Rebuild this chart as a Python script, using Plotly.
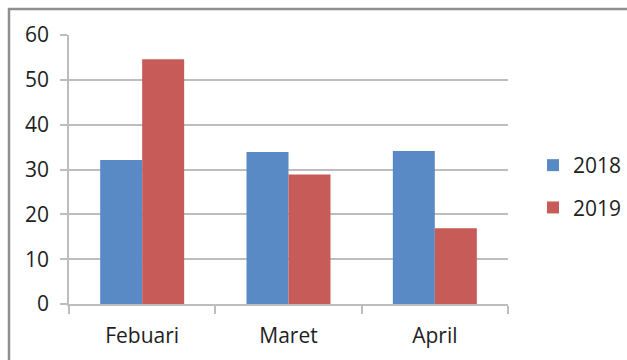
import plotly.graph_objects as go

categories = ["Febuari", "Maret", "April"]
series_names = ["2018", "2019"]
values_2018 = [32.1, 33.9, 34.1]
values_2019 = [54.6, 28.9, 16.9]
y_ticks = [0, 10, 20, 30, 40, 50, 60]

colors = ["#5A8AC6", "#C75B58"]
FONT = "Open Sans"
TXT = "#1E1E1E"
GRID = "#BDBDBD"
FS = 21

W, H = 627, 360
L, R, T, B = 69, 627 - 508, 35, 360 - 304
pw, ph = W - L - R, H - T - B

fig = go.Figure()
for name, vals, col, g in zip(series_names, [values_2018, values_2019], colors, ["a", "b"]):
    fig.add_trace(go.Bar(
        x=categories, y=vals, name=name, legendgroup=g,
        marker=dict(color=col, line=dict(width=0)),
    ))

def px(x):
    return (x - L) / pw

def py(y):
    return (H - B - y) / ph

fig.update_layout(
    width=W, height=H,
    margin=dict(l=L, r=R, t=T, b=B, pad=0, autoexpand=False),
    paper_bgcolor="white", plot_bgcolor="white",
    barmode="group", bargap=0.426, bargroupgap=0,
    font=dict(family=FONT, size=FS, color=TXT),
    showlegend=True,
    legend=dict(
        x=px(533), xanchor="left", y=py(145), yanchor="top",
        font=dict(family=FONT, size=FS, color=TXT),
        traceorder="grouped", tracegroupgap=12,
        bgcolor="rgba(0,0,0,0)",
    ),
    xaxis=dict(
        type="category", showgrid=False, showline=True, linecolor=GRID, linewidth=1.5,
        ticks="outside", ticklen=8, tickcolor=GRID, tickwidth=1.5,
        tickson="boundaries", ticklabelstandoff=12,
        tickfont=dict(family=FONT, size=FS, color=TXT),
    ),
    yaxis=dict(
        range=[0, 60], tickvals=y_ticks, showgrid=True, gridcolor=GRID, gridwidth=1.5,
        showline=True, linecolor=GRID, linewidth=1.5,
        ticks="outside", ticklen=7, tickcolor=GRID, tickwidth=1.5,
        ticklabelstandoff=7, zeroline=False,
        tickfont=dict(family=FONT, size=FS, color=TXT),
    ),
    shapes=[dict(
        type="rect", xref="paper", yref="paper",
        x0=px(9), x1=px(700), y0=py(9), y1=py(420),
        line=dict(color="#8F8F8F", width=2.5), fillcolor="rgba(0,0,0,0)", layer="above",
    )],
)

fig.write_html("out.html")
